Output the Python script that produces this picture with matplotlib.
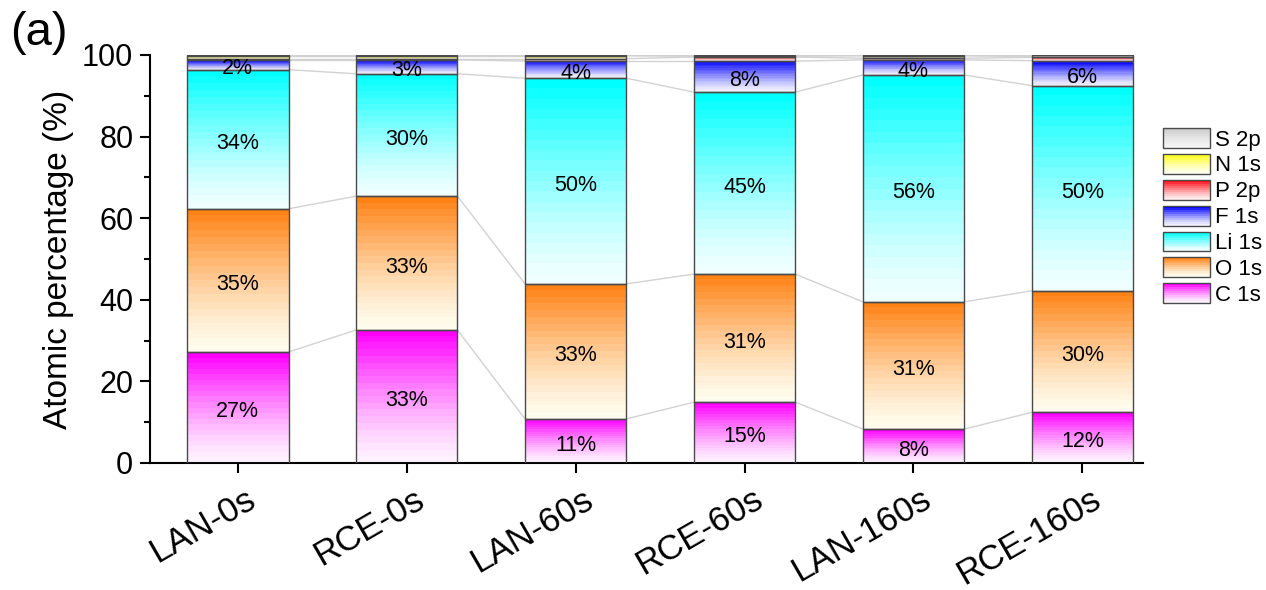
import numpy as np
import matplotlib
matplotlib.use("Agg")
import matplotlib.pyplot as plt
import matplotlib.transforms as mtransforms
from matplotlib.legend_handler import HandlerBase
from matplotlib.patches import Rectangle
from matplotlib.ticker import MultipleLocator

plt.rcParams['font.family'] = ['Liberation Sans', 'DejaVu Sans']

samples = ["LAN-0s", "RCE-0s", "LAN-60s", "RCE-60s", "LAN-160s", "RCE-160s"]
elements = ["C 1s", "O 1s", "Li 1s", "F 1s", "P 2p", "N 1s", "S 2p"]

c1s  = [27.2, 32.6, 10.8, 14.9, 8.3, 12.4]
o1s  = [35.1, 32.8, 33.1, 31.4, 31.2, 29.8]
li1s = [34.1, 30.0, 50.4, 44.6, 55.6, 50.3]
f1s  = [2.4, 3.4, 4.2, 7.6, 3.7, 6.1]
p2p  = [0.3, 0.3, 0.6, 1.0, 0.4, 0.8]
n1s  = [0.7, 0.7, 0.7, 0.2, 0.6, 0.2]
s2p  = [0.2, 0.2, 0.2, 0.3, 0.2, 0.4]

series = [c1s, o1s, li1s, f1s, p2p, n1s, s2p]
labelled = {"C 1s", "O 1s", "Li 1s", "F 1s"}

top_colors = {
    "C 1s": (1.0, 0.0, 1.0),
    "O 1s": (1.0, 0.51, 0.08),
    "Li 1s": (0.0, 1.0, 1.0),
    "F 1s": (0.0, 0.0, 1.0),
    "P 2p": (1.0, 0.05, 0.1),
    "N 1s": (1.0, 1.0, 0.1),
    "S 2p": (0.80, 0.80, 0.80),
}
bottom_colors = {
    "C 1s": (1.0, 0.95, 1.0),
    "O 1s": (1.0, 0.99, 0.93),
    "Li 1s": (0.94, 1.0, 1.0),
    "F 1s": (0.95, 0.95, 1.0),
    "P 2p": (1.0, 0.93, 0.93),
    "N 1s": (1.0, 1.0, 0.93),
    "S 2p": (0.96, 0.96, 0.96),
}

NBANDS = 20


def band_colors(name, n=NBANDS):
    top = np.array(top_colors[name])
    bot = np.array(bottom_colors[name])
    t = np.linspace(0, 1, n) ** 1.3
    return bot[None, :] + (top - bot)[None, :] * t[:, None]


fig = plt.figure(figsize=(12.66, 5.90), dpi=100)
ax = fig.add_axes([0.1185, 0.2153, 0.7845, 0.6915])

x = np.arange(len(samples))
width = 0.6
edge = "#4a4a4a"

cum = np.zeros(len(samples))
boundaries = []
for name, vals in zip(elements, series):
    vals = np.array(vals)
    ax.bar(x, vals, width, bottom=cum, facecolor="none",
           edgecolor=edge, linewidth=1.0, zorder=3, label=name)
    cols = band_colors(name)
    for xi, b, h in zip(x, cum, vals):
        ax.imshow(cols[:, None, :], extent=(xi - width / 2, xi + width / 2, b, b + h),
                  origin="lower", aspect="auto", interpolation="nearest", zorder=2)
        if name in labelled:
            ax.annotate(f"{h:.0f}%", (xi, b + h / 2), xytext=(0, -3),
                        textcoords="offset points", ha="center", va="center",
                        fontsize=15.5, zorder=5)
    cum = cum + vals
    boundaries.append(cum.copy())

# light guide lines joining segment tops of neighbouring bars
for level in boundaries:
    for i in range(len(samples) - 1):
        ax.plot([x[i] + width / 2, x[i + 1] - width / 2], [level[i], level[i + 1]],
                color="#d2d2d2", linewidth=1.0, zorder=1)

ax.set_xlim(-0.52, 5.36)
ax.set_ylim(0, 100)
ax.set_xticks(x)
ax.set_xticklabels(samples, rotation=30, ha="right", rotation_mode="anchor",
                   fontsize=25)
ax.yaxis.set_major_locator(MultipleLocator(20))
ax.yaxis.set_minor_locator(MultipleLocator(10))
ax.tick_params(axis="y", which="major", labelsize=22, length=7, width=1.5, pad=5)
ax.tick_params(axis="y", which="minor", length=4, width=1.5)
ax.tick_params(axis="x", which="major", length=7, width=1.5, pad=7)

# nudge the slanted sample names a little to the right
shift = mtransforms.ScaledTranslation(7 / 100, 0, fig.dpi_scale_trans)
for tick in ax.xaxis.get_major_ticks():
    tick.label1.set_transform(tick.label1.get_transform() + shift)

for s in ("top", "right"):
    ax.spines[s].set_visible(False)
for s in ("left", "bottom"):
    ax.spines[s].set_linewidth(1.5)
ax.set_ylabel("Atomic percentage (%)", fontsize=24, labelpad=6)

fig.text(0.008, 0.982, "(a)", fontsize=34, va="top", ha="left")


class GradientHandler(HandlerBase):
    def create_artists(self, legend, orig_handle, xdescent, ydescent,
                       width, height, fontsize, trans):
        name = orig_handle.get_label()
        cols = band_colors(name, 10)
        artists = []
        n = len(cols)
        for k, c in enumerate(cols):
            r = Rectangle((-xdescent, -ydescent + height * k / n), width, height / n,
                          facecolor=c, edgecolor="none", transform=trans)
            artists.append(r)
        artists.append(Rectangle((-xdescent, -ydescent), width, height,
                                 facecolor="none", edgecolor=edge, linewidth=1.0,
                                 transform=trans))
        return artists


handles, labels = ax.get_legend_handles_labels()
proxies = [Rectangle((0, 0), 1, 1, label=l) for l in labels]
leg = fig.legend(proxies[::-1], labels[::-1], loc="upper left",
                 bbox_to_anchor=(0.9186, 0.783), frameon=False, fontsize=16,
                 handlelength=2.1, handleheight=1.0, labelspacing=0.15,
                 handletextpad=0.25, borderpad=0, borderaxespad=0,
                 handler_map={Rectangle: GradientHandler()})

fig.savefig("out.png", dpi=100)
